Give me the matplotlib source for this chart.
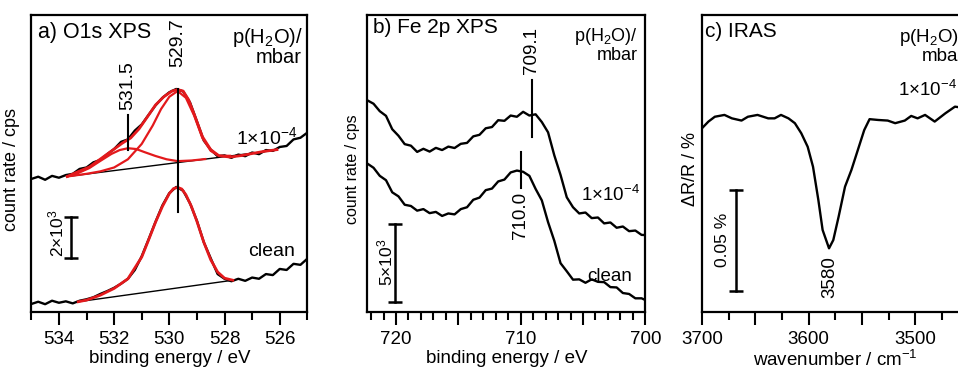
import matplotlib
matplotlib.use("Agg")
from matplotlib import pyplot as plt
from matplotlib.ticker import MultipleLocator, FuncFormatter

plt.rcParams['font.family'] = ['Liberation Sans', 'DejaVu Sans']
plt.rcParams['mathtext.fontset'] = 'custom'
plt.rcParams['mathtext.rm'] = 'Liberation Sans'
plt.rcParams['mathtext.it'] = 'Liberation Sans:italic'
plt.rcParams['mathtext.bf'] = 'Liberation Sans:bold'

# ---------------------------------------------------------------------------------------------
# a) O1s XPS  (count rate in 10^3 cps, offset)
# ---------------------------------------------------------------------------------------------
o1s_energy = [535.0, 534.75, 534.5, 534.25, 534.0, 533.75, 533.5, 533.25, 533.0, 532.75,
              532.5, 532.25, 532.0, 531.75, 531.5, 531.25, 531.0, 530.75, 530.5, 530.25,
              530.0, 529.75, 529.5, 529.25, 529.0, 528.75, 528.5, 528.25, 528.0, 527.75,
              527.5, 527.25, 527.0, 526.75, 526.5, 526.25, 526.0, 525.75, 525.5, 525.25, 525.0]
o1s_water = [6.49, 6.60, 6.45, 6.64, 6.55, 6.68, 6.74, 6.98, 7.05, 7.30,
             7.42, 7.70, 7.95, 8.30, 8.42, 8.85, 9.15, 9.62, 10.08, 10.45,
             10.72, 10.88, 10.76, 10.22, 9.30, 8.36, 7.92, 7.60, 7.64, 7.52,
             7.68, 7.60, 7.78, 7.70, 7.90, 7.86, 8.05, 8.10, 8.42, 8.50, 8.75]
o1s_clean = [0.39, 0.50, 0.38, 0.55, 0.45, 0.52, 0.42, 0.55, 0.62, 0.72,
             0.88, 1.02, 1.18, 1.38, 1.62, 2.05, 2.72, 3.55, 4.40, 5.20,
             5.80, 6.10, 5.92, 5.30, 4.45, 3.40, 2.62, 1.85, 1.62, 1.50,
             1.62, 1.52, 1.68, 1.62, 1.85, 1.80, 2.10, 2.05, 2.35, 2.30, 2.60]

# fit of the 1x10^-4 mbar spectrum
fit_w_energy = [533.7, 533.3, 532.9, 532.5, 532.1, 531.7, 531.4, 531.1, 530.8, 530.5, 530.2, 529.9,
                529.7, 529.5, 529.3, 529.1, 528.8, 528.5, 528.2, 527.8, 527.4, 527.0, 526.6, 526.1]
fit_w_sum = [6.61, 6.85, 7.07, 7.46, 7.85, 8.24, 8.49, 8.93, 9.51, 10.10, 10.50, 10.78,
             10.85, 10.78, 10.35, 9.65, 8.55, 7.92, 7.62, 7.56, 7.63, 7.73, 7.83, 7.92]
comp_oh_energy = [533.7, 533.3, 532.9, 532.5, 532.1, 531.8, 531.5, 531.2, 530.9, 530.5, 530.1, 529.7, 529.2, 528.7]
comp_oh = [6.61, 6.78, 7.02, 7.37, 7.71, 7.90, 7.99, 7.95, 7.80, 7.61, 7.45, 7.36, 7.39, 7.46]
comp_ox_energy = [533.7, 533.0, 532.5, 532.0, 531.5, 531.0, 530.6, 530.3, 530.0, 529.7, 529.4, 529.1,
                  528.8, 528.5, 528.2, 527.8]
comp_ox = [6.61, 6.74, 6.86, 7.05, 7.45, 8.20, 9.10, 9.90, 10.50, 10.78, 10.45, 9.58,
           8.48, 7.86, 7.62, 7.62]
bg_w_energy = [533.7, 526.1]
bg_w = [6.61, 7.90]

# fit of the clean spectrum
fit_c_energy = [533.3, 533.0, 532.5, 532.0, 531.5, 531.0, 530.75, 530.5, 530.25, 530.0, 529.85,
                529.7, 529.55, 529.4, 529.2, 529.0, 528.75, 528.5, 528.25, 528.0, 527.7]
fit_c = [0.50, 0.58, 0.82, 1.15, 1.62, 2.68, 3.52, 4.38, 5.15, 5.78, 6.02,
         6.08, 6.00, 5.72, 5.15, 4.42, 3.40, 2.55, 1.95, 1.65, 1.55]
bg_c_energy = [533.3, 527.8]
bg_c = [0.50, 1.53]

# ---------------------------------------------------------------------------------------------
# b) Fe 2p XPS  (10^3 cps, offset)
# ---------------------------------------------------------------------------------------------
fe_energy = [722.3, 721.8, 721.3, 720.8, 720.3, 719.8, 719.3, 718.8, 718.3, 717.8,
             717.3, 716.8, 716.3, 715.8, 715.3, 714.8, 714.3, 713.8, 713.3, 712.8,
             712.3, 711.8, 711.3, 710.8, 710.3, 709.8, 709.3, 708.8, 708.3, 707.8,
             707.3, 706.8, 706.3, 705.8, 705.3, 704.8, 704.3, 703.8, 703.3, 702.8,
             702.3, 701.8, 701.3, 700.8, 700.3, 700.0]
fe_water = [13.62, 13.40, 12.92, 12.62, 11.76, 11.34, 10.80, 10.70, 10.30, 10.50,
            10.32, 10.56, 10.42, 10.64, 10.55, 10.82, 10.88, 11.30, 11.40, 11.82,
            11.90, 12.34, 12.30, 12.64, 12.56, 12.88, 12.64, 12.72, 12.22, 11.56,
            10.08, 8.82, 7.38, 6.74, 6.34, 6.40, 6.04, 6.08, 5.70, 5.76,
            5.42, 5.50, 5.20, 5.24, 4.96, 4.95]
fe_clean = [9.55, 9.28, 8.76, 8.48, 7.70, 7.44, 6.90, 6.82, 6.52, 6.62,
            6.36, 6.44, 6.18, 6.34, 6.28, 6.62, 6.74, 7.22, 7.36, 7.84,
            7.94, 8.40, 8.52, 8.98, 9.10, 9.02, 8.76, 7.92, 7.18, 5.78,
            4.58, 3.14, 2.62, 2.08, 2.10, 1.88, 2.10, 1.94, 1.92, 1.60,
            1.58, 1.22, 1.16, 0.88, 0.88, 0.77]

# ---------------------------------------------------------------------------------------------
# c) IRAS  (dR/R in %)
# ---------------------------------------------------------------------------------------------
iras_wn = [3700, 3694, 3688, 3679, 3672, 3663, 3657, 3648, 3638, 3632,
           3626, 3619, 3613, 3607, 3601, 3596, 3591, 3587, 3581, 3577,
           3572, 3566, 3560, 3554, 3548, 3543, 3535, 3526, 3519, 3510,
           3504, 3498, 3491, 3482, 3472, 3463, 3455]
iras_dr = [-0.0046, -0.0013, 0.0011, 0.0020, 0.0003, -0.0008, 0.0011, 0.0020, 0.0003, 0.0003,
           0.0020, 0.0003, -0.0021, -0.0071, -0.0138, -0.0237, -0.0402, -0.0551, -0.0642, -0.0601,
           -0.0485, -0.0336, -0.0253, -0.0154, -0.0055, -0.0001, -0.0005, -0.0008, -0.0021, -0.0008,
           0.0015, 0.0003, 0.0020, -0.0013, 0.0028, 0.0061, 0.0055]

RED = '#e3191c'
LW = 1.7


def style_axis(ax, major, minor, labelled):
    for s in ax.spines.values():
        s.set_linewidth(1.6)
    ax.set_yticks([])
    ax.xaxis.set_major_locator(MultipleLocator(major))
    ax.xaxis.set_minor_locator(MultipleLocator(minor))
    ax.xaxis.set_major_formatter(FuncFormatter(lambda v, p: '%d' % round(v) if round(v) % labelled == 0 else ''))
    ax.tick_params(axis='x', which='major', direction='out', length=9.4, width=1.5, labelsize=13.5, pad=4)
    ax.tick_params(axis='x', which='minor', direction='out', length=5.5, width=1.5)


def scale_bar(ax, x, y0, y1):
    ax.plot([x, x], [y0, y1], color='k', lw=1.8, marker='_', ms=9.5, mew=1.8)


fig = plt.figure(figsize=(9.58, 3.69), dpi=100)

# ---- panel a --------------------------------------------------------------------------------
ax = fig.add_axes([0.0327, 0.1545, 0.2881, 0.8049])
ax.plot(o1s_energy, o1s_water, color='k', lw=LW)
ax.plot(o1s_energy, o1s_clean, color='k', lw=LW)
ax.plot(bg_w_energy, bg_w, color='k', lw=1.0)
ax.plot(bg_c_energy, bg_c, color='k', lw=1.0)
ax.plot(comp_oh_energy, comp_oh, color=RED, lw=1.6)
ax.plot(comp_ox_energy, comp_ox, color=RED, lw=1.6)
ax.plot(fit_w_energy, fit_w_sum, color=RED, lw=2.0)
ax.plot(fit_c_energy, fit_c, color=RED, lw=2.0)
ax.plot([529.7, 529.7], [4.88, 10.88], color='k', lw=1.5)
ax.plot([531.5, 531.5], [7.90, 9.61], color='k', lw=1.5)
ax.text(529.7, 11.95, '529.7', rotation=90, ha='center', va='bottom', fontsize=14)
ax.text(531.5, 9.85, '531.5', rotation=90, ha='center', va='bottom', fontsize=14)
scale_bar(ax, 533.57, 2.65, 4.65)
ax.text(534.1, 3.83, r'2$\times$10$^3$', rotation=90, ha='center', va='center', fontsize=12.5)
ax.set_xlim(535, 525)
ax.set_ylim(0, 14.49)
style_axis(ax, 2, 1, 2)
ax.set_xlabel('binding energy / eV', fontsize=13.5, labelpad=2)
ax.set_ylabel('count rate / cps', fontsize=13)
ax.yaxis.set_label_coords(-0.041, 0.48)
ax.text(0.024, 0.94, 'a) O1s XPS', transform=ax.transAxes, ha='left', va='center', fontsize=15.5)
ax.text(0.984, 0.924, r'p(H$_2$O)/', transform=ax.transAxes, ha='right', va='center', fontsize=14.5)
ax.text(0.981, 0.857, 'mbar', transform=ax.transAxes, ha='right', va='center', fontsize=14.5)
ax.text(0.963, 0.589, r'1$\times$10$^{-4}$', transform=ax.transAxes, ha='right', va='center', fontsize=14)
ax.text(0.955, 0.205, 'clean', transform=ax.transAxes, ha='right', va='center', fontsize=14)

# ---- panel b --------------------------------------------------------------------------------
ax = fig.add_axes([0.3834, 0.1545, 0.2902, 0.8049])
ax.plot(fe_energy, fe_water, color='k', lw=LW)
ax.plot(fe_energy, fe_clean, color='k', lw=LW)
ax.plot([709.1, 709.1], [11.26, 14.93], color='k', lw=1.5)
ax.plot([710.0, 710.0], [7.98, 10.30], color='k', lw=1.5)
ax.text(709.1, 15.3, '709.1', rotation=90, ha='center', va='bottom', fontsize=13.5)
ax.text(710.0, 7.72, '710.0', rotation=90, ha='center', va='top', fontsize=13.5)
scale_bar(ax, 720.06, 0.66, 5.66)
ax.text(720.84, 3.22, r'5$\times$10$^3$', rotation=90, ha='center', va='center', fontsize=12.5)
ax.set_xlim(722.3, 700)
ax.set_ylim(0, 19.11)
style_axis(ax, 5, 1, 10)
ax.set_xlabel('binding energy / eV', fontsize=13.5, labelpad=2)
ax.set_ylabel('count rate / cps', fontsize=11.5)
ax.yaxis.set_label_coords(-0.026, 0.48)
ax.text(0.0205, 0.958, 'b) Fe 2p XPS', transform=ax.transAxes, ha='left', va='center', fontsize=15)
ax.text(0.974, 0.928, r'p(H$_2$O)/', transform=ax.transAxes, ha='right', va='center', fontsize=13)
ax.text(0.974, 0.864, 'mbar', transform=ax.transAxes, ha='right', va='center', fontsize=13)
ax.text(0.981, 0.394, r'1$\times$10$^{-4}$', transform=ax.transAxes, ha='right', va='center', fontsize=13.5)
ax.text(0.952, 0.12, 'clean', transform=ax.transAxes, ha='right', va='center', fontsize=13.5)

# ---- panel c (right edge runs off the figure, as in the original) ---------------------------
ax = fig.add_axes([0.7328, 0.1545, 0.2785, 0.8049])
ax.plot(iras_wn, iras_dr, color='k', lw=LW)
ax.text(3580, -0.068, '3580', rotation=90, ha='center', va='top', fontsize=13.5)
scale_bar(ax, 3668, -0.0853, -0.0353)
ax.text(3680.8, -0.060, '0.05 %', rotation=90, ha='center', va='center', fontsize=12.5)
ax.set_xlim(3700, 3450)
ax.set_ylim(-0.0958, 0.0516)
style_axis(ax, 50, 25, 100)
ax.set_xlabel(r'wavenumber / cm$^{-1}$', fontsize=13.5, labelpad=2)
ax.set_ylabel(r'$\Delta$R/R / %', fontsize=13)
ax.yaxis.set_label_coords(-0.01, 0.48)
ax.text(0.011, 0.944, 'c) IRAS', transform=ax.transAxes, ha='left', va='center', fontsize=15)
ax.text(0.985, 0.924, r'p(H$_2$O)/', transform=ax.transAxes, ha='right', va='center', fontsize=13.5)
ax.text(0.985, 0.86, 'mbar', transform=ax.transAxes, ha='right', va='center', fontsize=13.5)
ax.text(0.955, 0.749, r'1$\times$10$^{-4}$', transform=ax.transAxes, ha='right', va='center', fontsize=13.5)

fig.savefig('out.png', dpi=100)
